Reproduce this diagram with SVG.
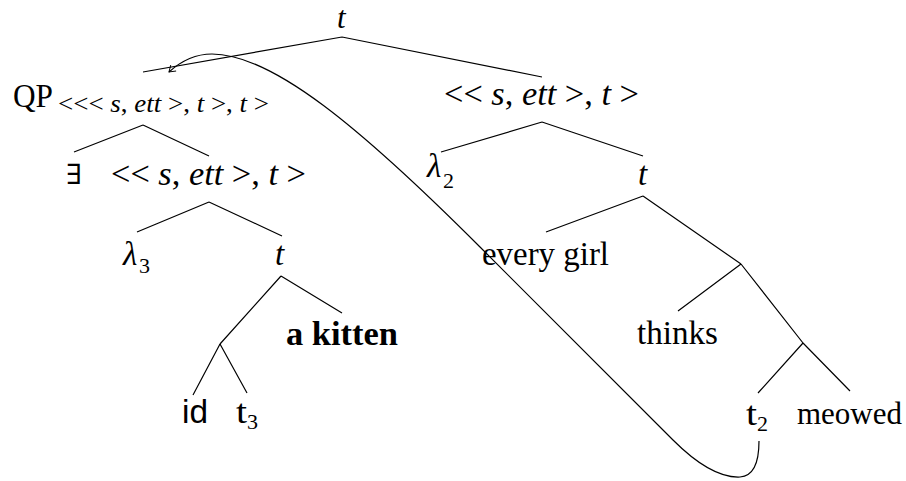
<svg xmlns="http://www.w3.org/2000/svg" width="906" height="481" viewBox="0 0 906 481">
<style>
.lbl{font-family:"Liberation Serif","DejaVu Serif",serif;font-size:33px;fill:#000}
.it{font-style:italic}
.sub{font-size:22px}
.sans{font-family:"Liberation Sans","DejaVu Sans",sans-serif}
.edge{stroke:#000;stroke-width:1.2;fill:none}
</style>
<defs>
<marker id="arr" markerWidth="12" markerHeight="12" refX="0" refY="0" viewBox="-7 -6 9 12" orient="auto" markerUnits="userSpaceOnUse">
<path d="M-6,-4 L0,0 L-6,4" fill="none" stroke="#000" stroke-width="1"/>
</marker>
</defs>
<rect width="906" height="481" fill="#fff"/>
<g id="connectors">
<path class="edge" d="M342,37 L143,72 M342,37 L542,77"/>
<path class="edge" d="M143,125 L74,152 M143,125 L209,156"/>
<path class="edge" d="M542,122 L441,152 M542,122 L643,156"/>
<path class="edge" d="M209,202 L137,232 M209,202 L282,236"/>
<path class="edge" d="M643,196 L546,232 M643,196 L741,264"/>
<path class="edge" d="M741,264 L678,311 M741,264 L803,343"/>
<path class="edge" d="M803,343 L758,393 M803,343 L850,391"/>
<path class="edge" d="M281,276 L220,344 M281,276 L342,313"/>
<path class="edge" d="M220,344 L193,395 M220,344 L247,393"/>
<path class="edge" marker-end="url(#arr)" d="M759,441 C759,460 755,476 740,477 C718,478 695,462 673,440 L480,247 C360,127 272,54 212,54 C195,54 180,62 169,72"/>
</g>
<g id="root"><text class="lbl it" x="337" y="28" style="font-size:31px">t</text></g>
<g id="qp"><text class="lbl" x="13" y="107" textLength="40" lengthAdjust="spacingAndGlyphs">QP</text><text class="lbl" style="font-size:25px" x="58" y="112" textLength="211" lengthAdjust="spacingAndGlyphs">&lt;&lt;&lt; <tspan class="it">s</tspan>, <tspan class="it">ett</tspan> &gt;, <tspan class="it">t</tspan> &gt;, <tspan class="it">t</tspan> &gt;</text></g>
<g id="right-type"><text class="lbl" x="444" y="105" textLength="195" lengthAdjust="spacingAndGlyphs">&lt;&lt; <tspan class="it">s</tspan>, <tspan class="it">ett</tspan> &gt;, <tspan class="it">t</tspan> &gt;</text></g>
<g id="exists"><text class="lbl" x="66" y="184" style="font-family:'DejaVu Serif',serif;font-size:28px" textLength="16" lengthAdjust="spacingAndGlyphs">∃</text></g>
<g id="left-type"><text class="lbl" x="111" y="185" textLength="195" lengthAdjust="spacingAndGlyphs">&lt;&lt; <tspan class="it">s</tspan>, <tspan class="it">ett</tspan> &gt;, <tspan class="it">t</tspan> &gt;</text></g>
<g id="lambda2"><text class="lbl it" x="427" y="177">λ</text><text class="lbl sub" x="443" y="188">2</text></g>
<g id="t-right"><text class="lbl it" x="638" y="185">t</text></g>
<g id="lambda3"><text class="lbl it" x="123" y="265">λ</text><text class="lbl sub" x="139" y="273">3</text></g>
<g id="t-left"><text class="lbl it" x="275" y="265">t</text></g>
<g id="a-kitten"><text class="lbl" x="286" y="345" font-weight="bold" textLength="112" lengthAdjust="spacingAndGlyphs">a kitten</text></g>
<g id="every-girl"><text class="lbl" x="482" y="265" textLength="127" lengthAdjust="spacingAndGlyphs">every girl</text></g>
<g id="thinks"><text class="lbl" x="637" y="344" textLength="81" lengthAdjust="spacingAndGlyphs">thinks</text></g>
<g id="id"><text class="lbl sans" x="182" y="423" textLength="26" lengthAdjust="spacingAndGlyphs">id</text></g>
<g id="t3"><text class="lbl" x="236" y="423" textLength="11" lengthAdjust="spacingAndGlyphs">t</text><text class="lbl sub" x="247" y="429">3</text></g>
<g id="t2"><text class="lbl" x="746" y="425" textLength="11" lengthAdjust="spacingAndGlyphs">t</text><text class="lbl sub" x="757" y="431">2</text></g>
<g id="meowed"><text class="lbl" x="797" y="424" style="font-size:31px">meowed</text></g>
</svg>
